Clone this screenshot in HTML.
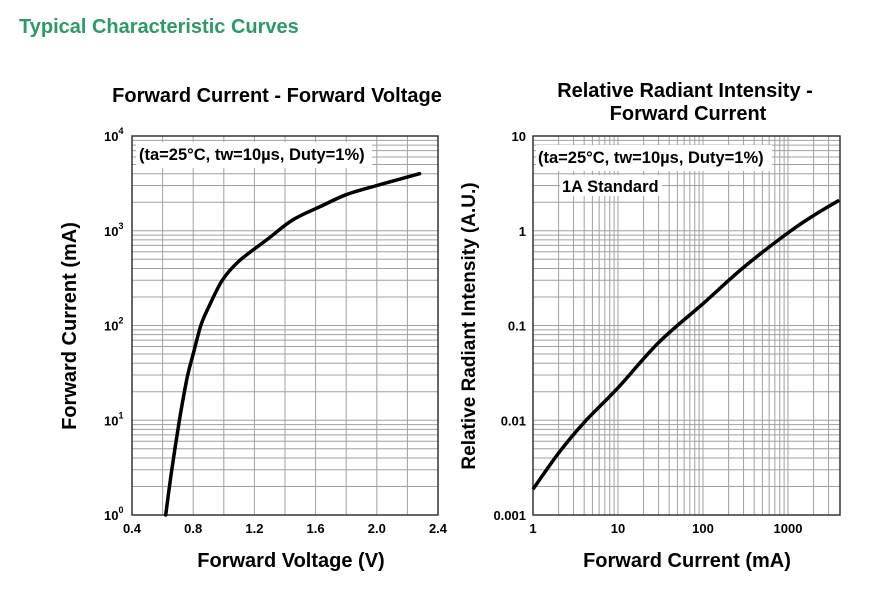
<!DOCTYPE html>
<html><head><meta charset="utf-8"><style>
html,body{margin:0;padding:0;background:#fff;width:894px;height:603px;overflow:hidden}
svg{display:block;font-family:"Liberation Sans",Arial,sans-serif;font-weight:bold}
</style></head><body>
<svg id="s" width="894" height="603" viewBox="0 0 894 603">
<text x="19" y="33" font-size="20" fill="#2e9a66">Typical Characteristic Curves</text>
<g id="left"></g>
<g id="right"></g>
</svg>
<script>
// Left chart data: Forward Voltage (V) vs Forward Current (mA)
const vfVoltage = [0.62,0.66,0.71,0.76,0.8,0.85,0.9,0.99,1.1,1.28,1.45,1.63,1.8,2.0,2.28];
const vfCurrent = [1,3,10,28,50,100,155,300,480,800,1300,1800,2400,3000,4000];
const vfXTicks = ["0.4","0.8","1.2","1.6","2.0","2.4"];
const vfYTicks = ["0","1","2","3","4"];
// Right chart data: Forward Current (mA) vs Relative Radiant Intensity
const riCurrent = [1,2,4,10,30,100,300,1000,2000,4000];
const riIntensity = [0.00187,0.0045,0.0095,0.022,0.066,0.17,0.41,0.95,1.45,2.1];
const riXTicks = ["1","10","100","1000"];
const riYTicks = ["10","1","0.1","0.01","0.001"];

const NS="http://www.w3.org/2000/svg";
function mk(parent,tag,attrs){const e=document.createElementNS(NS,tag);for(const k in attrs)e.setAttribute(k,attrs[k]);parent.appendChild(e);return e;}
function smooth(pts){
  let d='M'+pts[0][0].toFixed(1)+','+pts[0][1].toFixed(1);
  for(let i=0;i<pts.length-1;i++){
    const p0=pts[Math.max(0,i-1)],p1=pts[i],p2=pts[i+1],p3=pts[Math.min(pts.length-1,i+2)];
    const c1x=p1[0]+(p2[0]-p0[0])/6,c1y=p1[1]+(p2[1]-p0[1])/6;
    const c2x=p2[0]-(p3[0]-p1[0])/6,c2y=p2[1]-(p3[1]-p1[1])/6;
    d+='C'+c1x.toFixed(1)+','+c1y.toFixed(1)+' '+c2x.toFixed(1)+','+c2y.toFixed(1)+' '+p2[0].toFixed(1)+','+p2[1].toFixed(1);
  }
  return d;
}

// ----- Left chart -----
(function(){
const g=document.getElementById('left');
const L=132,R=438,T=136,B=515;
const xs=v=>L+(v-0.4)/2.0*(R-L);
const ys=i=>B-Math.log10(i)/4*(B-T);
for(let v=0.6;v<2.39;v+=0.2){const l=mk(g,'line',{x1:xs(v),x2:xs(v),y1:T,y2:B,stroke:'#a0a0a0','stroke-width':1});

}
for(let d=0;d<4;d++)for(let m=1;m<=9;m++){const y=ys(Math.pow(10,d)*m);if(m===1&&d===0)continue;const l=mk(g,'line',{x1:L,x2:R,y1:y,y2:y,stroke:'#a0a0a0','stroke-width':1});

}
const fr=mk(g,'rect',{x:L,y:T,width:R-L,height:B-T,fill:'none',stroke:'#333','stroke-width':1.5});


const bx=mk(g,'rect',{x:136,y:142,width:236,height:26,fill:'#fff'});


const an=mk(g,'text',{x:139,y:160,'font-size':16.5});an.textContent='(ta=25°C, tw=10µs, Duty=1%)';


const pts=vfVoltage.map((v,i)=>[xs(v),ys(vfCurrent[i])]);
const p=mk(g,'path',{d:smooth(pts),fill:'none',stroke:'#000','stroke-width':3.5,'stroke-linejoin':'round','stroke-linecap':'round'});


vfXTicks.forEach(t=>{const e=mk(g,'text',{x:xs(parseFloat(t)),y:533,'font-size':13,'text-anchor':'middle'});e.textContent=t;

});
vfYTicks.forEach(t=>{const y=ys(Math.pow(10,+t));const e=mk(g,'text',{x:104,y:y+5,'font-size':13});e.textContent='10';
const s=mk(e,'tspan',{dy:-7,'font-size':9});s.textContent=t;

});
const t1=mk(g,'text',{x:277,y:102,'font-size':20,'text-anchor':'middle'});t1.textContent='Forward Current - Forward Voltage';


const xl=mk(g,'text',{x:291,y:567,'font-size':20,'text-anchor':'middle'});xl.textContent='Forward Voltage (V)';


const yl=mk(g,'text',{x:0,y:0,'font-size':20,'text-anchor':'middle',transform:'translate(76,326) rotate(-90)'});yl.textContent='Forward Current (mA)';


})();

// ----- Right chart -----
(function(){
const g=document.getElementById('right');
const L=533,R=840,T=136,B=515;
const DX=85;
const xs=c=>L+Math.log10(c)*DX;
const ys=v=>B-(Math.log10(v)+3)/4*(B-T);
for(let d=0;d<4;d++)for(let m=1;m<=9;m++){const c=Math.pow(10,d)*m;if(c<=1||xs(c)>=R-1)continue;const x=xs(c);const l=mk(g,'line',{x1:x,x2:x,y1:T,y2:B,stroke:'#a0a0a0','stroke-width':1});

}
for(let d=-3;d<1;d++)for(let m=1;m<=9;m++){const v=Math.pow(10,d)*m;if(d===-3&&m===1)continue;const y=ys(v);const l=mk(g,'line',{x1:L,x2:R,y1:y,y2:y,stroke:'#a0a0a0','stroke-width':1});

}
const fr=mk(g,'rect',{x:L,y:T,width:R-L,height:B-T,fill:'none',stroke:'#333','stroke-width':1.5});


const bx=mk(g,'rect',{x:536,y:145,width:236,height:26,fill:'#fff'});


const an=mk(g,'text',{x:538,y:163,'font-size':16.5});an.textContent='(ta=25°C, tw=10µs, Duty=1%)';


const bx2=mk(g,'rect',{x:560,y:175,width:102,height:21,fill:'#fff'});


const an2=mk(g,'text',{x:562,y:192,'font-size':16.5});an2.textContent='1A Standard';


const pts=riCurrent.map((c,i)=>[xs(c),ys(riIntensity[i])]);
const p=mk(g,'path',{d:smooth(pts),fill:'none',stroke:'#000','stroke-width':3.5,'stroke-linejoin':'round'});


riXTicks.forEach(t=>{const e=mk(g,'text',{x:xs(+t),y:533,'font-size':13,'text-anchor':'middle'});e.textContent=t;

});
riYTicks.forEach(t=>{const e=mk(g,'text',{x:526,y:ys(+t)+5,'font-size':13,'text-anchor':'end'});e.textContent=t;

});
const t1=mk(g,'text',{x:685,y:97,'font-size':20,'text-anchor':'middle'});t1.textContent='Relative Radiant Intensity -';


const t2=mk(g,'text',{x:688,y:120,'font-size':20,'text-anchor':'middle'});t2.textContent='Forward Current';


const xl=mk(g,'text',{x:687,y:567,'font-size':20,'text-anchor':'middle'});xl.textContent='Forward Current (mA)';


const yl=mk(g,'text',{x:0,y:0,'font-size':19,'text-anchor':'middle',transform:'translate(475,326) rotate(-90)'});yl.textContent='Relative Radiant Intensity (A.U.)';


})();
</script>
</body></html>
